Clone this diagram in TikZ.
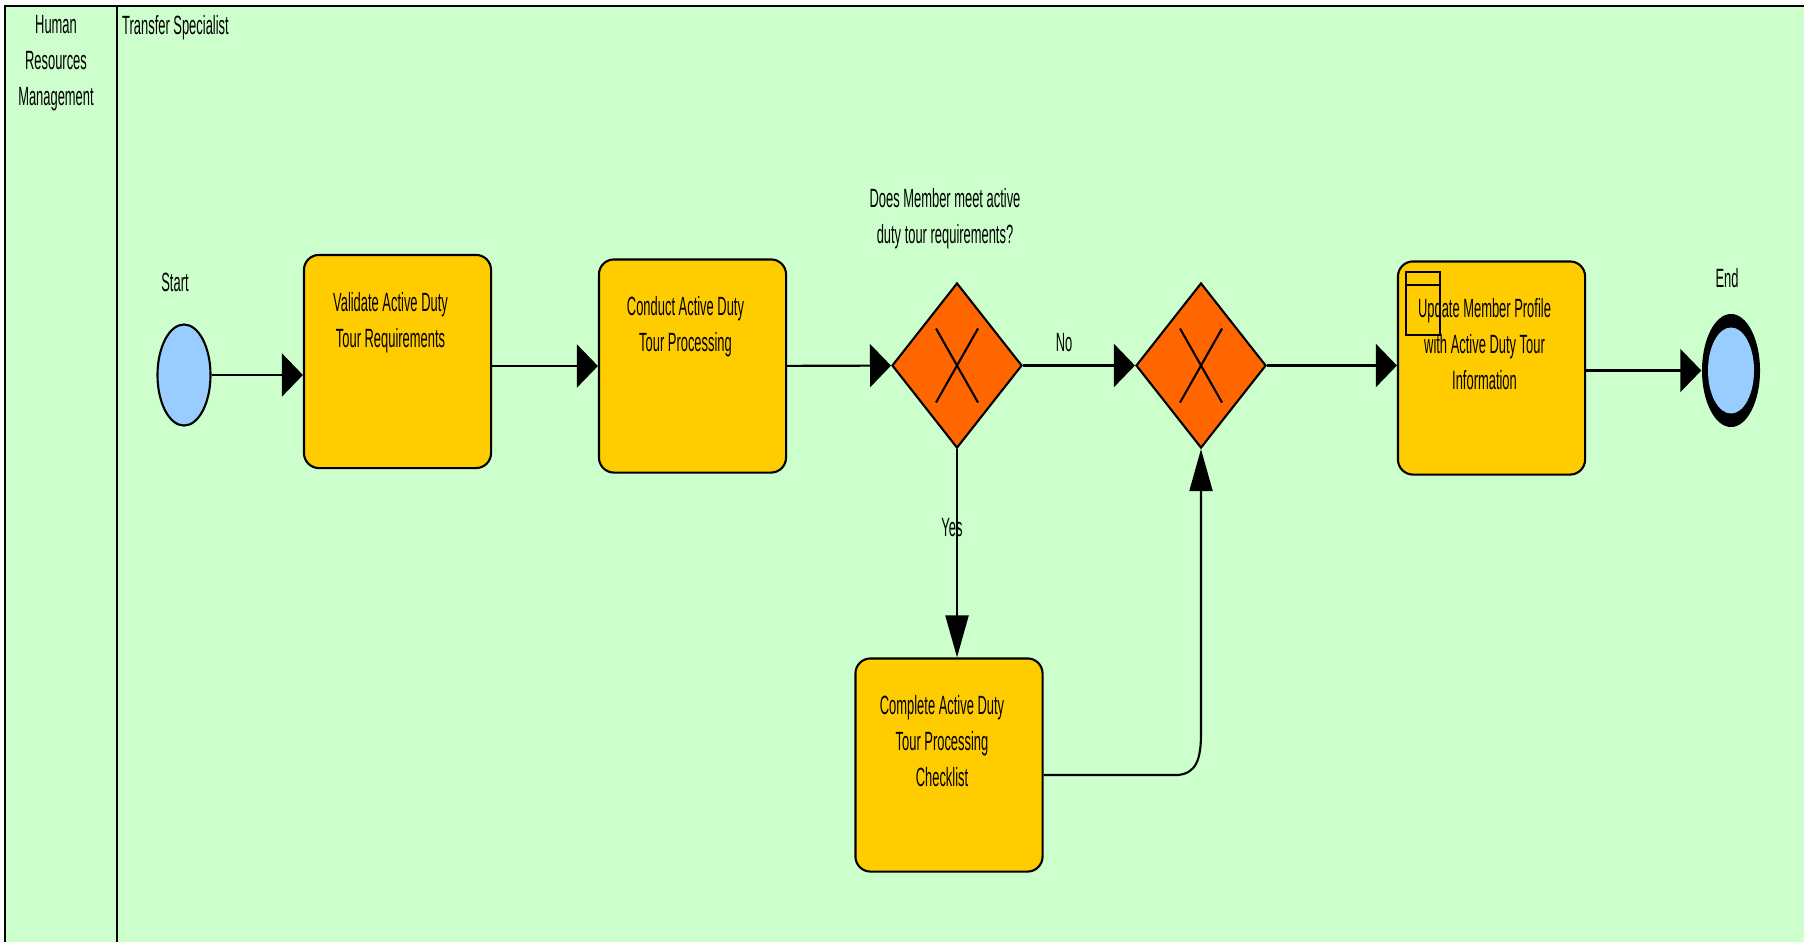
\documentclass[tikz,border=0pt]{standalone}
\usepackage{fontspec}
\setmainfont{Liberation Sans}[FakeStretch=0.49]
\usetikzlibrary{arrows.meta, shapes.geometric}
\definecolor{lanegreen}{HTML}{CCFFCC}
\definecolor{taskgold}{HTML}{FFCC00}
\definecolor{gateorange}{HTML}{FF6600}
\definecolor{eventblue}{HTML}{99CCFF}

\begin{document}
\begin{tikzpicture}[x=0.01cm, y=-0.01cm,
        font=\fontsize{7.5pt}{10.2pt}\selectfont,
        flow/.style={line width=0.6pt, -{Triangle[length=2.1mm, width=4.3mm]}},
        flowv/.style={line width=0.6pt, -{Triangle[length=4.2mm, width=2.3mm]}},
        task/.style={draw, line width=0.6pt, fill=taskgold, rounded corners=0.15cm,
            minimum width=1.87cm, minimum height=2.13cm, inner sep=0pt},
        tasktext/.style={anchor=north, yshift=-0.26cm, xshift=-0.07cm, align=center},
        gate/.style={diamond, draw, line width=0.6pt, fill=gateorange,
            minimum width=1.3cm, minimum height=1.65cm, inner sep=0pt,
            path picture={
                \draw ([shift={(-21,-37)}]path picture bounding box.center) -- ([shift={(21,37)}]path picture bounding box.center);
                \draw ([shift={(21,-37)}]path picture bounding box.center) -- ([shift={(-21,37)}]path picture bounding box.center);
            }},
        startev/.style={ellipse, draw, line width=0.6pt, fill=eventblue,
            minimum width=0.53cm, minimum height=1.01cm, inner sep=0pt},
        endev/.style={ellipse, fill=black, minimum width=0.58cm, minimum height=1.13cm, inner sep=0pt,
            path picture={
                \fill[eventblue] (path picture bounding box.center) ellipse [x radius=0.23cm, y radius=0.43cm];
            }}]
        \useasboundingbox (0,0) rectangle (1804,942);

        % Pool and lanes
        \fill[lanegreen] (5,6) rectangle (1804,942);
        \draw[line width=0.6pt] (1804,6) -- (5,6) -- (5,942);
        \draw[line width=0.6pt] (117,6) -- (117,942);
        \node[align=center] (hrm) at (56,63) {Human\\Resources\\Management};
        \node[anchor=west, inner sep=1pt] (transfer) at (118,28) {Transfer Specialist};

        % Events
        \node[startev] (start) at (184,375) {};
        \node (startlbl) at (175,282) {Start};
        \node[endev] (end) at (1731,370.5) {};
        \node (endlbl) at (1727,278) {End};

        % Tasks
        \node[task, label={[tasktext]north:Validate Active Duty\\Tour Requirements}] (validate) at (397.5,361.5) {};
        \node[task, label={[tasktext]north:Conduct Active Duty\\Tour Processing}] (conduct) at (692.5,366) {};
        \node[task, label={[tasktext]north:Complete Active Duty\\Tour Processing\\Checklist}] (checklist) at (949,765) {};
        \node[task, label={[tasktext]north:Update Member Profile\\with Active Duty Tour\\Information}] (update) at (1491.5,368) {};
        \draw[line width=0.6pt] ([shift={(9,12)}]update.north west) rectangle ++(34,63);
        \draw[line width=0.6pt] ([shift={(9,25)}]update.north west) -- ++(34,0);

        % Gateways
        \node[gate] (gw1) at (957,365.5) {};
        \node[gate] (gw2) at (1201,365.5) {};
        \node[align=center] (question) at (945,219) {Does Member meet active\\duty tour requirements?};
        \node (nolbl) at (1064,343) {No};

        % Sequence flows
        \draw[flow] (start.east) -- (start.east -| validate.west);
        \draw[flow] (validate.east |- conduct) -- (conduct);
        \draw[flow] (conduct) -- (gw1);
        \draw[flow] (gw1) -- (gw2);
        \draw[flow] (gw2) -- (gw2 -| update.west);
        \draw[flow] (update.east |- end) -- (end);
        \draw[flowv] (gw1) -- (gw1 |- checklist.north);
        \node (yeslbl) at (952,528) {Yes};
        \draw[flowv] ([yshift=-0.1cm]checklist.east) -- (1178,775)
            .. controls (1196,773) and (1201,760) .. (1201,733) -- (gw2.south);
    \end{tikzpicture}
\end{document}
